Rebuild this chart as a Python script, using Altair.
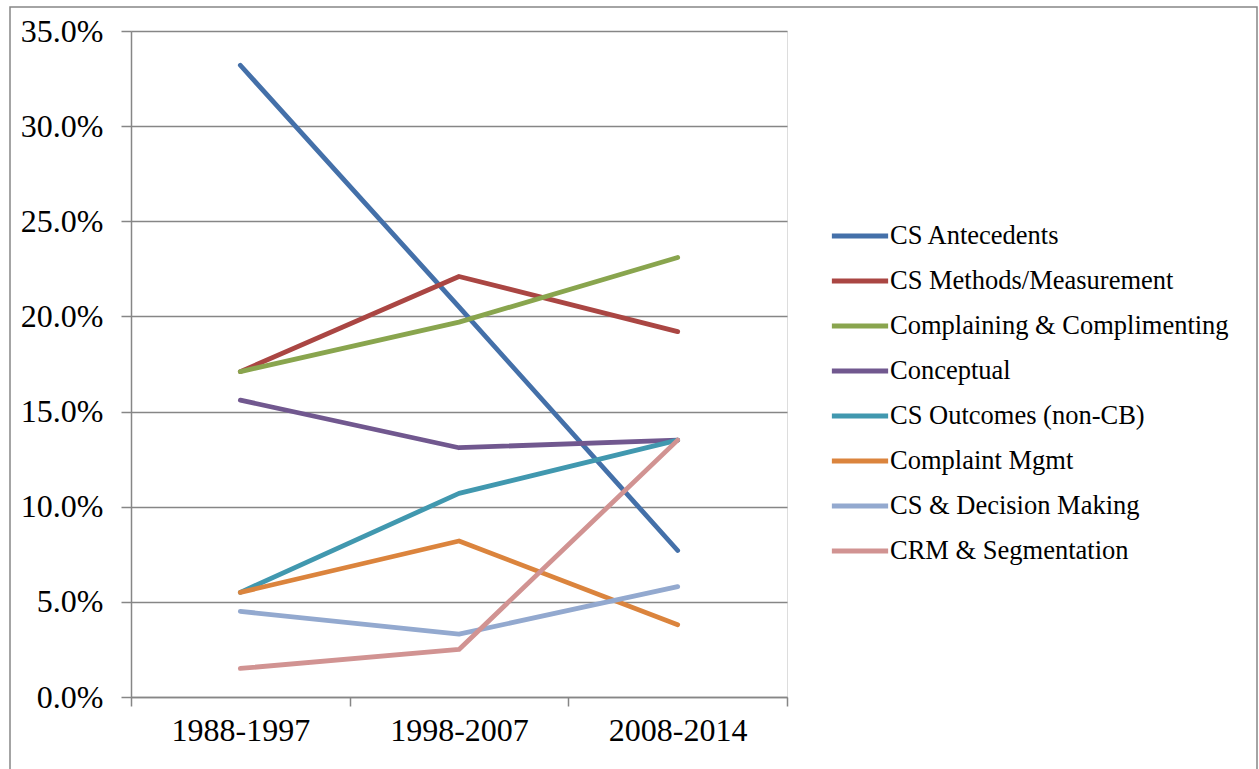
import altair as alt
import pandas as pd

periods = ["1988-1997", "1998-2007", "2008-2014"]
series = [
    "CS Antecedents",
    "CS Methods/Measurement",
    "Complaining & Complimenting",
    "Conceptual",
    "CS Outcomes (non-CB)",
    "Complaint Mgmt",
    "CS & Decision Making",
    "CRM & Segmentation",
]
values = {
    "CS Antecedents": [0.332, 0.205, 0.077],
    "CS Methods/Measurement": [0.171, 0.221, 0.192],
    "Complaining & Complimenting": [0.171, 0.197, 0.231],
    "Conceptual": [0.156, 0.131, 0.135],
    "CS Outcomes (non-CB)": [0.055, 0.107, 0.135],
    "Complaint Mgmt": [0.055, 0.082, 0.038],
    "CS & Decision Making": [0.045, 0.033, 0.058],
    "CRM & Segmentation": [0.015, 0.025, 0.135],
}
colors = ["#4470A9", "#AA4643", "#89A54E", "#71588F", "#4198AF", "#DB843D", "#93A9CF", "#D19392"]
y_ticks = [0, 0.05, 0.10, 0.15, 0.20, 0.25, 0.30, 0.35]

rows = []
for i, s in enumerate(series):
    for p, v in zip(periods, values[s]):
        rows.append({"Period": p, "Series": s, "Value": v, "order": i})
df = pd.DataFrame(rows)

FONT = "Liberation Serif"

lines = alt.Chart(df).mark_line(strokeWidth=4.8, strokeCap="round", strokeJoin="round").encode(
    x=alt.X("Period:N", sort=periods, bandPosition=0.5,
            scale=alt.Scale(type="band", paddingInner=0, paddingOuter=0),
            axis=alt.Axis(title=None, labelAngle=0, tickBand="extent", grid=False,
                          labelFontSize=32, labelFont=FONT, labelColor="#000",
                          labelPadding=9, tickSize=9, tickColor="#868686",
                          domainColor="#868686", tickWidth=1.5, domainWidth=1.5)),
    y=alt.Y("Value:Q", scale=alt.Scale(domain=[0, 0.35], nice=False),
            axis=alt.Axis(title=None, values=y_ticks, format=".1%",
                          labelFontSize=32, labelFont=FONT, labelColor="#000",
                          labelPadding=18, tickSize=10, tickColor="#868686",
                          domainColor="#868686", gridColor="#868686",
                          gridWidth=1.5, tickWidth=1.5, domainWidth=1.5)),
    color=alt.Color("Series:N", sort=series,
                    scale=alt.Scale(domain=series, range=colors),
                    legend=alt.Legend(title=None, orient="none", legendX=704, legendY=180,
                                      symbolType="M-1.25,0L1.25,0", symbolStrokeWidth=4.8,
                                      symbolSize=2025, labelFontSize=26.5, labelFont=FONT,
                                      labelColor="#000", rowPadding=6, labelOffset=5,
                                      labelLimit=500)),
    detail="Series:N",
    order="order:Q",
)

frame = alt.Chart(pd.DataFrame({"a": [0]})).mark_rect(
    fill=None, stroke="#868686", strokeWidth=1.5
).encode(
    x=alt.value(-121), x2=alt.value(1126), y=alt.value(-24), y2=alt.value(800)
)

chart = alt.layer(frame, lines).properties(
    width=656, height=666,
    autosize=alt.AutoSizeParams(type="none"),
    padding={"left": 131, "top": 31, "right": 472, "bottom": 72},
).configure_view(stroke=None).configure(background="white")

chart.save("out.html", embed_options={"renderer": "svg", "actions": False})
